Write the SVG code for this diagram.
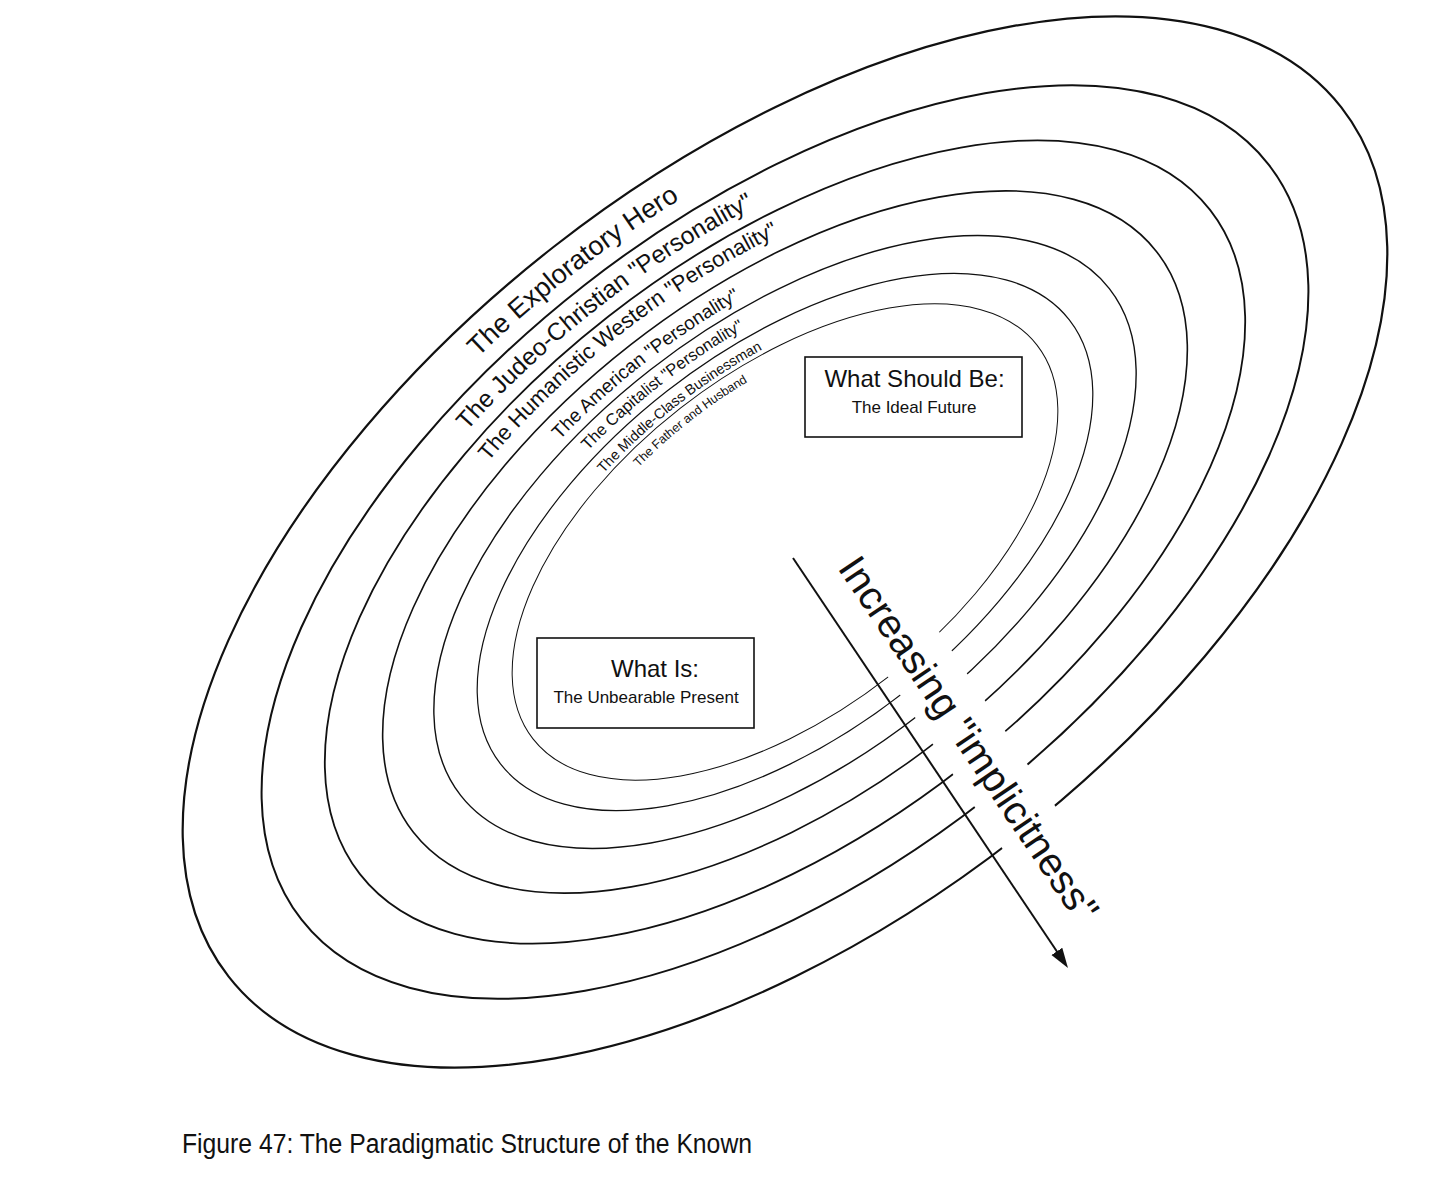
<svg xmlns="http://www.w3.org/2000/svg" xmlns:xlink="http://www.w3.org/1999/xlink" width="1429" height="1179" viewBox="0 0 1429 1179">
<style>
.ell{fill:none;stroke:#111}
.lbl{font-family:"Liberation Sans",Arial,sans-serif;fill:#111}
.box{fill:#fff;stroke:#111;stroke-width:1.6}
.bt{font-family:"Liberation Sans",Arial,sans-serif;fill:#111;text-anchor:middle}
.cap{font-family:"Liberation Sans",Arial,sans-serif;fill:#111}
</style>
<defs>
<mask id="gap" maskUnits="userSpaceOnUse" x="0" y="0" width="1429" height="1179">
<rect x="0" y="0" width="1429" height="1179" fill="#fff"/>
<polygon points="833.6,595 914.6,595 1117.7,900 1036.7,900" fill="#000"/>
</mask>
<marker id="ah" markerUnits="userSpaceOnUse" markerWidth="22" markerHeight="14" refX="8" refY="6.5" orient="auto">
<path d="M0,0 L20,6.5 L0,13 z" fill="#111"/>
</marker>
<path id="p1" d="M-642.9,0 A642.9,341.5 0 0 1 642.9,0"/>
<path id="p2" d="M-563.7,0 A563.7,299.4 0 0 1 563.7,0"/>
<path id="p3" d="M-498.7,0 A498.7,264.9 0 0 1 498.7,0"/>
<path id="p4" d="M-428.1,0 A428.1,227.4 0 0 1 428.1,0"/>
<path id="p5" d="M-376.9,0 A376.9,200.2 0 0 1 376.9,0"/>
<path id="p6" d="M-327.6,0 A327.6,174 0 0 1 327.6,0"/>
<path id="p7" d="M-289.2,0 A289.2,153.6 0 0 1 289.2,0"/>
</defs>
<rect x="0" y="0" width="1429" height="1179" fill="#fff"/>
<g id="ellipses" mask="url(#gap)">
<g transform="translate(785,542) rotate(-38)">
<ellipse id="e1" class="ell" cx="0" cy="0" rx="706" ry="375" stroke-width="2.2"/>
<ellipse id="e2" class="ell" cx="0" cy="0" rx="613.5" ry="325.9" stroke-width="2"/>
<ellipse id="e3" class="ell" cx="0" cy="0" rx="539.4" ry="286.5" stroke-width="1.8"/>
<ellipse id="e4" class="ell" cx="0" cy="0" rx="471.6" ry="250.5" stroke-width="1.6"/>
<ellipse id="e5" class="ell" cx="0" cy="0" rx="411.6" ry="218.6" stroke-width="1.4"/>
<ellipse id="e6" class="ell" cx="0" cy="0" rx="360.8" ry="191.6" stroke-width="1.2"/>
<ellipse id="e7" class="ell" cx="0" cy="0" rx="319.8" ry="169.9" stroke-width="1"/>
</g>
</g>
<g id="labels" transform="translate(785,542) rotate(-38)">
<text class="lbl" font-size="27" text-anchor="middle"><textPath xlink:href="#p1" href="#p1" startOffset="50%">The Exploratory Hero</textPath></text>
<text class="lbl" font-size="24.5" text-anchor="middle"><textPath xlink:href="#p2" href="#p2" startOffset="50%">The Judeo-Christian "Personality"</textPath></text>
<text class="lbl" font-size="22" text-anchor="middle"><textPath xlink:href="#p3" href="#p3" startOffset="50%">The Humanistic Western "Personality"</textPath></text>
<text class="lbl" font-size="19" text-anchor="middle"><textPath xlink:href="#p4" href="#p4" startOffset="50%">The American "Personality"</textPath></text>
<text class="lbl" font-size="16.5" text-anchor="middle"><textPath xlink:href="#p5" href="#p5" startOffset="50%">The Capitalist "Personality"</textPath></text>
<text class="lbl" font-size="14.4" text-anchor="middle"><textPath xlink:href="#p6" href="#p6" startOffset="50%">The Middle-Class Businessman</textPath></text>
<text class="lbl" font-size="12.5" text-anchor="middle"><textPath xlink:href="#p7" href="#p7" startOffset="50%">The Father and Husband</textPath></text>
</g>
<g id="node-should">
<rect class="box" x="805" y="357" width="217" height="80"/>
<text class="bt" x="914.5" y="387" font-size="24">What Should Be:</text>
<text class="bt" x="914" y="413" font-size="17">The Ideal Future</text>
</g>
<g id="node-is">
<rect class="box" x="537" y="638" width="217" height="90"/>
<text class="bt" x="655" y="677" font-size="24">What Is:</text>
<text class="bt" x="646" y="703" font-size="17">The Unbearable Present</text>
</g>
<g id="connectors">
<line x1="793" y1="558" x2="1061.3" y2="958" stroke="#111" stroke-width="2" marker-end="url(#ah)"/>
</g>
<g id="axis-label">
<text class="lbl" font-size="40" transform="translate(837,568) rotate(56)">Increasing "implicitness"</text>
</g>
<g id="caption">
<text class="cap" x="182" y="1153" font-size="27" textLength="570" lengthAdjust="spacingAndGlyphs">Figure 47: The Paradigmatic Structure of the Known</text>
</g>
</svg>
